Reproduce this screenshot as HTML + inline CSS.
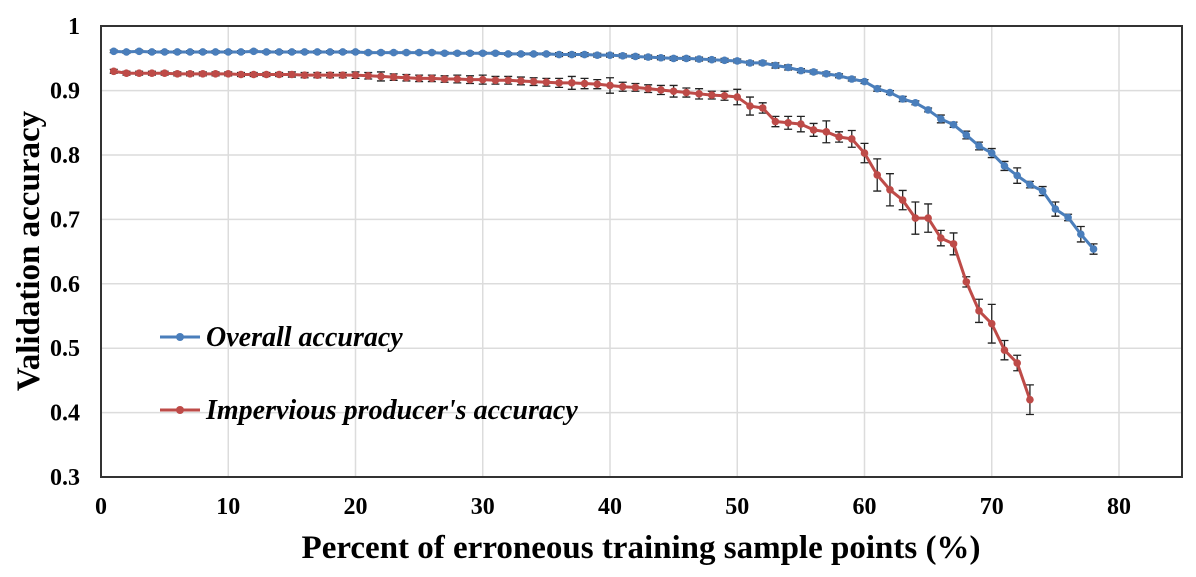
<!DOCTYPE html>
<html><head><meta charset="utf-8"><style>
body{margin:0;background:#fff;}
svg text{font-family:"Liberation Serif",serif;font-weight:bold;fill:#000;}
</style></head><body>
<svg id="chart" width="1196" height="572">
<g id="grid"></g>
<rect x="101" y="26" width="1081" height="451" fill="none" stroke="#333" stroke-width="2"/>
<g id="yticks"></g>
<g id="xticks"></g>
<g id="series"></g>
<text x="39" y="251" transform="rotate(-90 39 251)" text-anchor="middle" font-size="33">Validation  accuracy</text>
<text x="641" y="558" text-anchor="middle" font-size="33">Percent of erroneous training sample points (%)</text>
<g>
<g>
<line x1="160" y1="337" x2="200" y2="337" stroke="#4a7ebb" stroke-width="3"/><circle cx="180" cy="337" r="4" fill="#4a7ebb"/>
<text x="206" y="346" font-size="28" font-style="italic">Overall accuracy</text></g>
<g>
<line x1="160" y1="410" x2="200" y2="410" stroke="#be4b48" stroke-width="3"/><circle cx="180" cy="410" r="4" fill="#be4b48"/>
<text x="206" y="419" font-size="28" font-style="italic">Impervious producer's accuracy</text></g>
</g>
</svg>
<script>
const xTicks=[0,10,20,30,40,50,60,70,80];
const yTicks=[0.3,0.4,0.5,0.6,0.7,0.8,0.9,1];
const yTickLabels=["0.3","0.4","0.5","0.6","0.7","0.8","0.9","1"];
const overallX=[1,2,3,4,5,6,7,8,9,10,11,12,13,14,15,16,17,18,19,20,21,22,23,24,25,26,27,28,29,30,31,32,33,34,35,36,37,38,39,40,41,42,43,44,45,46,47,48,49,50,51,52,53,54,55,56,57,58,59,60,61,62,63,64,65,66,67,68,69,70,71,72,73,74,75,76,77,78];
const overallY=[0.961,0.960,0.961,0.960,0.960,0.960,0.960,0.960,0.960,0.960,0.960,0.961,0.960,0.960,0.960,0.960,0.960,0.960,0.960,0.960,0.959,0.959,0.959,0.959,0.959,0.959,0.958,0.958,0.958,0.958,0.958,0.957,0.957,0.957,0.957,0.956,0.956,0.956,0.955,0.955,0.954,0.953,0.952,0.951,0.950,0.950,0.949,0.948,0.947,0.946,0.943,0.943,0.939,0.936,0.931,0.929,0.926,0.923,0.918,0.914,0.903,0.897,0.887,0.881,0.870,0.856,0.847,0.831,0.814,0.803,0.783,0.768,0.754,0.744,0.716,0.703,0.677,0.654];
const overallErr=[0.002,0.002,0.002,0.002,0.002,0.002,0.002,0.002,0.002,0.002,0.002,0.002,0.002,0.002,0.002,0.002,0.002,0.002,0.002,0.002,0.002,0.002,0.002,0.002,0.002,0.002,0.002,0.002,0.002,0.002,0.002,0.002,0.002,0.002,0.002,0.003,0.003,0.003,0.003,0.003,0.003,0.003,0.003,0.003,0.003,0.003,0.003,0.003,0.003,0.003,0.003,0.003,0.004,0.004,0.003,0.003,0.003,0.003,0.003,0.003,0.004,0.003,0.004,0.003,0.003,0.006,0.004,0.006,0.006,0.007,0.007,0.012,0.005,0.007,0.011,0.005,0.012,0.008];
const imperviousX=[1,2,3,4,5,6,7,8,9,10,11,12,13,14,15,16,17,18,19,20,21,22,23,24,25,26,27,28,29,30,31,32,33,34,35,36,37,38,39,40,41,42,43,44,45,46,47,48,49,50,51,52,53,54,55,56,57,58,59,60,61,62,63,64,65,66,67,68,69,70,71,72,73];
const imperviousY=[0.930,0.927,0.927,0.927,0.927,0.926,0.926,0.926,0.926,0.926,0.925,0.925,0.925,0.925,0.925,0.924,0.924,0.924,0.924,0.924,0.923,0.922,0.921,0.920,0.919,0.919,0.918,0.918,0.917,0.917,0.916,0.916,0.915,0.914,0.913,0.912,0.912,0.911,0.910,0.908,0.906,0.905,0.903,0.901,0.899,0.897,0.895,0.893,0.892,0.890,0.876,0.873,0.852,0.850,0.848,0.839,0.836,0.828,0.825,0.803,0.769,0.746,0.730,0.702,0.702,0.671,0.662,0.603,0.558,0.538,0.497,0.477,0.420];
const imperviousErr=[0.003,0.003,0.003,0.003,0.003,0.003,0.003,0.003,0.003,0.003,0.003,0.003,0.003,0.003,0.004,0.004,0.004,0.004,0.004,0.005,0.005,0.007,0.005,0.005,0.005,0.005,0.005,0.006,0.006,0.007,0.006,0.006,0.006,0.006,0.006,0.007,0.010,0.008,0.007,0.012,0.007,0.006,0.006,0.007,0.009,0.007,0.008,0.006,0.007,0.012,0.014,0.008,0.008,0.010,0.012,0.010,0.017,0.008,0.013,0.015,0.025,0.025,0.015,0.025,0.022,0.012,0.017,0.008,0.018,0.030,0.015,0.012,0.023];

const NS="http://www.w3.org/2000/svg";
const X0=101,XS=12.725,Y0=477,YS=644;
function xs(v){return X0+v*XS;}
function ys(v){return Y0-(v-0.3)*YS;}
function mk(tag,attrs,parent){const e=document.createElementNS(NS,tag);for(const k in attrs)e.setAttribute(k,attrs[k]);parent.appendChild(e);return e;}
const grid=document.getElementById('grid'),yt=document.getElementById('yticks'),xt=document.getElementById('xticks'),ser=document.getElementById('series');
xTicks.forEach(t=>{
  if(t>0){const l=mk('line',{x1:xs(t),x2:xs(t),y1:26,y2:477,stroke:'#dcdcdc','stroke-width':1.5},grid);
  
  }
  const tx=mk('text',{x:xs(t),y:514,'text-anchor':'middle','font-size':24},xt);tx.textContent=t;
  
  
});
yTicks.forEach((t,i)=>{
  if(t>0.3&&t<1){const l=mk('line',{x1:101,x2:1182,y1:ys(t),y2:ys(t),stroke:'#dcdcdc','stroke-width':1.5},grid);
  
  }
  const tx=mk('text',{x:80,y:ys(t)+8,'text-anchor':'end','font-size':24},yt);tx.textContent=yTickLabels[i];
  
  
});
function drawSeries(xa,ya,ea,color,name){
  const g=mk('g',{},ser);
  
  
  xa.forEach((x,i)=>{
    const cx=xs(x),t=ys(ya[i]+ea[i]),b=ys(ya[i]-ea[i]);
    const eb=mk('path',{d:`M${cx},${t}V${b}M${cx-4},${t}H${cx+4}M${cx-4},${b}H${cx+4}`,stroke:'#222','stroke-width':1.3,fill:'none'},g);
    
    
  });
  const p=mk('polyline',{points:xa.map((x,i)=>xs(x)+','+ys(ya[i])).join(' '),fill:'none',stroke:color,'stroke-width':3,'stroke-linejoin':'round'},g);
  
  
  xa.forEach((x,i)=>{
    const c=mk('circle',{cx:xs(x),cy:ys(ya[i]),r:3.8,fill:color},g);
    
    
  });
}
drawSeries(overallX,overallY,overallErr,'#4a7ebb','overall-accuracy');
drawSeries(imperviousX,imperviousY,imperviousErr,'#be4b48','impervious-accuracy');
</script>
</body></html>
